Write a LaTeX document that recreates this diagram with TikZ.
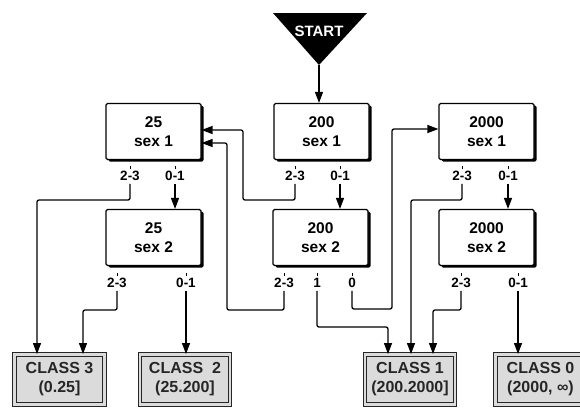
\documentclass[tikz,border=0pt]{standalone}
\usepackage{fontspec}
\setmainfont{Liberation Sans}
\usetikzlibrary{arrows.meta}
\begin{document}
\begin{tikzpicture}[x=1pt,y=-1pt,
  box/.style={draw,line width=1.2pt,fill=white,rounded corners=1.5pt,
    minimum width=95pt,minimum height=56pt,inner sep=0pt,align=center,
    font=\fontsize{15.5}{19}\selectfont\bfseries,
    preaction={fill=black,transform canvas={xshift=2.5pt,yshift=-2pt}}},
  cls/.style={draw=black!85,line width=1pt,double=gray!28,double distance=2.4pt,fill=gray!28,
    minimum width=90pt,minimum height=50pt,inner sep=0pt,align=center,
    font=\fontsize{16}{19}\selectfont\bfseries,text=black!85},
  lab/.style={inner sep=0pt,font=\fontsize{13.5}{13.5}\selectfont\bfseries},
  tick/.style={line width=0.8pt},
  conn/.style={line width=1.3pt,rounded corners=2pt,-{Triangle[length=11pt,width=8pt]},shorten <=3pt}]
\useasboundingbox (0,0) rectangle (580,408);

% start
\fill (273,13) -- (367,13) -- (319,65) -- cycle;
\coordinate (apex) at (319,65);
\node[text=white,font=\fontsize{15}{15}\selectfont\bfseries] (start) at (319,31) {START};

% boxes
\node[box] (b25a) at (153.5,131.5) {25\\sex 1};
\node[box] (b25b) at (153.5,237.5) {25\\sex 2};
\node[box] (b200a) at (321.5,131.5) {200\\sex 1};
\node[box] (b200b) at (320.5,237.5) {200\\sex 2};
\node[box] (b2000a) at (486.5,131.5) {2000\\sex 1};
\node[box] (b2000b) at (486.5,237.5) {2000\\sex 2};

% classes
\node[cls] (c3) at (59.5,379.5) {CLASS 3\\(0.25]};
\node[cls] (c2) at (185,379.5) {CLASS\ \ 2\\(25.200]};
\node[cls] (c1) at (410,379.5) {CLASS 1\\(200.2000]};
\node[cls] (c0) at (540.5,379.5) {CLASS 0\\(2000, ∞)};

% labels
\node[lab] (l25a23) at (130,176) {2-3};
\node[lab] (l25a01) at (175,176) {0-1};
\node[lab] (l25b23) at (117,283) {2-3};
\node[lab] (l25b01) at (186,283) {0-1};
\node[lab] (l200a23) at (295,176) {2-3};
\node[lab] (l200a01) at (340,176) {0-1};
\node[lab] (l200b23) at (284,283) {2-3};
\node[lab] (l200b1) at (317,283) {1};
\node[lab] (l200b0) at (352,283) {0};
\node[lab] (l2000a23) at (462,176) {2-3};
\node[lab] (l2000a01) at (508,176) {0-1};
\node[lab] (l2000b23) at (461,283) {2-3};
\node[lab] (l2000b01) at (518,283) {0-1};

\foreach \l in {l25a23,l25a01,l25b23,l25b01,l200a23,l200a01,l200b23,l200b1,l200b0,l2000a23,l2000a01,l2000b23,l2000b01}
  \draw[tick] (\l.north) ++(0,-2) -- ++(0,-3);

% entry points
\coordinate (c3in1) at ([xshift=-22.5pt]c3.north);
\coordinate (c3in2) at ([xshift=23.5pt]c3.north);
\coordinate (c1in1) at ([xshift=-22pt]c1.north);
\coordinate (c1in2) at ([xshift=1pt]c1.north);
\coordinate (c1in3) at ([xshift=23pt]c1.north);
\coordinate (e1) at ([yshift=1.5pt]b25a.east);
\coordinate (e2) at ([yshift=-11.5pt]b25a.east);
\coordinate (w2) at ([yshift=2.5pt]b2000a.west);

% connectors
\draw[conn,shorten <=0pt] (apex) -- (b200a.north -| apex);
\draw[conn] (l25a23.south) |- (37,200) -- (c3in1);
\draw[conn] (l25a01.south) -- (b25b.north -| l25a01);
\draw[conn] (l25b23.south) |- (83,310) -- (c3in2);
\draw[conn] (l25b01.south) -- (c2.north -| l25b01);
\draw[conn] (l200a23.south) |- (243,200) |- (e1);
\draw[conn] (l200a01.south) -- (b200b.north -| l200a01);
\draw[conn] (l200b23.south) |- (227,310) |- (e2);
\draw[conn] (l200b1.south) |- (388,327) -- (c1in1);
\draw[conn] (l200b0.south) |- (392,309) |- (w2);
\draw[conn] (l2000a23.south) |- (411,200) -- (c1in2);
\draw[conn] (l2000a01.south) -- (b2000b.north -| l2000a01);
\draw[conn] (l2000b23.south) |- (433,310) -- (c1in3);
\draw[conn] (l2000b01.south) -- (c0.north -| l2000b01);
\end{tikzpicture}
\end{document}
